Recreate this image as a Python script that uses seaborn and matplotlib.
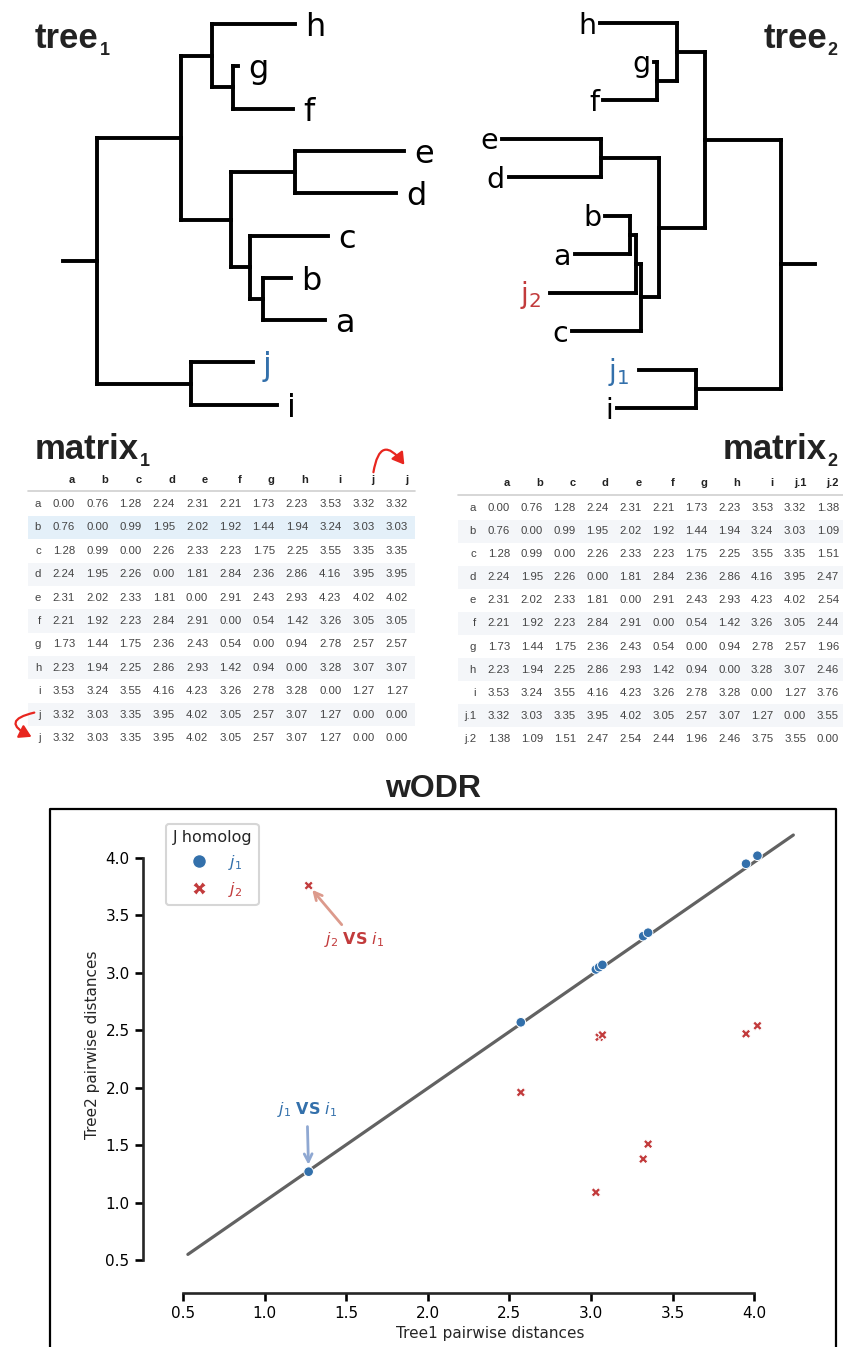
import numpy as np
import pandas as pd
import matplotlib
matplotlib.use("Agg")
import matplotlib.pyplot as plt
from matplotlib.patches import FancyArrowPatch, Rectangle
from matplotlib.lines import Line2D
import seaborn as sns

# ---------------- data ----------------
tree1_newick = ("(((h:0.83,(g:0.05,f:0.60):0.21):0.31,((e:1.09,d:1.01):0.64,"
                "(c:0.78,(b:0.28,a:0.62):0.13):0.19):0.50):0.84,(j:0.62,i:0.86):0.94);")
tree2_newick = ("(((h:0.77,(g:0.03,f:0.54):0.20):0.28,((e:0.99,d:0.92):0.58,"
                "(((b:0.25,a:0.55):0.06,j2:0.86):0.05,c:0.69):0.18):0.46):0.76,(j1:0.57,i:0.79):0.85);")

m1_cols = ["a", "b", "c", "d", "e", "f", "g", "h", "i", "j", "j"]
m1_rows = ["a", "b", "c", "d", "e", "f", "g", "h", "i", "j", "j"]
matrix1 = [
    [0.00, 0.76, 1.28, 2.24, 2.31, 2.21, 1.73, 2.23, 3.53, 3.32, 3.32],
    [0.76, 0.00, 0.99, 1.95, 2.02, 1.92, 1.44, 1.94, 3.24, 3.03, 3.03],
    [1.28, 0.99, 0.00, 2.26, 2.33, 2.23, 1.75, 2.25, 3.55, 3.35, 3.35],
    [2.24, 1.95, 2.26, 0.00, 1.81, 2.84, 2.36, 2.86, 4.16, 3.95, 3.95],
    [2.31, 2.02, 2.33, 1.81, 0.00, 2.91, 2.43, 2.93, 4.23, 4.02, 4.02],
    [2.21, 1.92, 2.23, 2.84, 2.91, 0.00, 0.54, 1.42, 3.26, 3.05, 3.05],
    [1.73, 1.44, 1.75, 2.36, 2.43, 0.54, 0.00, 0.94, 2.78, 2.57, 2.57],
    [2.23, 1.94, 2.25, 2.86, 2.93, 1.42, 0.94, 0.00, 3.28, 3.07, 3.07],
    [3.53, 3.24, 3.55, 4.16, 4.23, 3.26, 2.78, 3.28, 0.00, 1.27, 1.27],
    [3.32, 3.03, 3.35, 3.95, 4.02, 3.05, 2.57, 3.07, 1.27, 0.00, 0.00],
    [3.32, 3.03, 3.35, 3.95, 4.02, 3.05, 2.57, 3.07, 1.27, 0.00, 0.00],
]
m2_cols = ["a", "b", "c", "d", "e", "f", "g", "h", "i", "j.1", "j.2"]
m2_rows = ["a", "b", "c", "d", "e", "f", "g", "h", "i", "j.1", "j.2"]
matrix2 = [
    [0.00, 0.76, 1.28, 2.24, 2.31, 2.21, 1.73, 2.23, 3.53, 3.32, 1.38],
    [0.76, 0.00, 0.99, 1.95, 2.02, 1.92, 1.44, 1.94, 3.24, 3.03, 1.09],
    [1.28, 0.99, 0.00, 2.26, 2.33, 2.23, 1.75, 2.25, 3.55, 3.35, 1.51],
    [2.24, 1.95, 2.26, 0.00, 1.81, 2.84, 2.36, 2.86, 4.16, 3.95, 2.47],
    [2.31, 2.02, 2.33, 1.81, 0.00, 2.91, 2.43, 2.93, 4.23, 4.02, 2.54],
    [2.21, 1.92, 2.23, 2.84, 2.91, 0.00, 0.54, 1.42, 3.26, 3.05, 2.44],
    [1.73, 1.44, 1.75, 2.36, 2.43, 0.54, 0.00, 0.94, 2.78, 2.57, 1.96],
    [2.23, 1.94, 2.25, 2.86, 2.93, 1.42, 0.94, 0.00, 3.28, 3.07, 2.46],
    [3.53, 3.24, 3.55, 4.16, 4.23, 3.26, 2.78, 3.28, 0.00, 1.27, 3.76],
    [3.32, 3.03, 3.35, 3.95, 4.02, 3.05, 2.57, 3.07, 1.27, 0.00, 3.55],
    [1.38, 1.09, 1.51, 2.47, 2.54, 2.44, 1.96, 2.46, 3.75, 3.55, 0.00],
]

# wODR fitted line
fit_x = [0.53, 4.24]
fit_y = [0.55, 4.20]

# ---------------- style ----------------
BLUE = "#3370ab"
RED = "#c23b3c"
sns.set_theme(style="ticks")
plt.rcParams["font.family"] = ["DejaVu Sans"]
plt.rcParams["axes.linewidth"] = 1.9

W, H = 843, 1347
fig = plt.figure(figsize=(W / 100, H / 100), dpi=100)
ov = fig.add_axes([0, 0, 1, 1])
ov.set_xlim(0, W)
ov.set_ylim(H, 0)
ov.axis("off")


# ---------------- trees ----------------
def parse_newick(s):
    s = s.strip().rstrip(";")
    pos = 0

    def node():
        nonlocal pos
        children = []
        if s[pos] == "(":
            pos += 1
            while True:
                children.append(node())
                if s[pos] == ",":
                    pos += 1
                    continue
                pos += 1
                break
        st = pos
        while pos < len(s) and s[pos] not in ",():":
            pos += 1
        name = s[st:pos]
        length = 0.0
        if pos < len(s) and s[pos] == ":":
            pos += 1
            st = pos
            while pos < len(s) and s[pos] not in ",()":
                pos += 1
            length = float(s[st:pos])
        return {"name": name, "len": length, "children": children}

    return node()


def layout(tree):
    segs, tips = [], []
    counter = [0]

    def rec(n, depth):
        d = depth + n["len"]
        if not n["children"]:
            y = counter[0]
            counter[0] += 1
            tips.append((n["name"], d, y))
        else:
            ys = [rec(c, d) for c in n["children"]]
            y = (ys[0] + ys[-1]) / 2
            segs.append(((d, d), (ys[0], ys[-1])))
        if n["len"] > 0:
            segs.append(((depth, d), (y, y)))
        return y

    root_y = rec(tree, 0)
    return segs, tips, root_y


def draw_tree(newick, x0, direction, y0, ystep, xscale, stub, fs, labels):
    segs, tips, ry = layout(parse_newick(newick))
    segs.append(((-stub, 0), (ry, ry)))
    fx = lambda v: x0 + direction * xscale * np.asarray(v)
    fy = lambda v: y0 + ystep * np.asarray(v)
    for xs, ys in segs:
        ov.plot(fx(xs), fy(ys), color="black", lw=2.8, solid_capstyle="projecting")
    em = fs * 100 / 72
    for name, d, y in tips:
        txt, col, gap = labels.get(name, (name, "black", 10 if direction > 0 else 4))
        px = fx(d) + direction * gap
        ov.text(px, fy(y) + 0.38 * em, txt, fontsize=fs, color=col,
                ha="left" if direction > 0 else "right", va="baseline")


draw_tree(tree1_newick, 97, +1, 24, 42.3, 100, 0.34, 23, {"j": ("j", BLUE, 10)})
draw_tree(tree2_newick, 781, -1, 23, 38.5, 100, 0.34, 20.5,
          {"j2": (r"j$_2$", RED, 8), "j1": (r"j$_1$", BLUE, 9)})


def title_with_sub(x, y, main, sub, ha, fs=25, subfs=13):
    t = ov.text(x, y, main, fontsize=fs, fontweight="bold", family="Liberation Sans",
                color="#222222", ha=ha, va="baseline")
    ov.annotate(sub, xy=(1, 0), xycoords=t, xytext=(0.5, -3), textcoords="offset points",
                fontsize=subfs, fontweight="bold", family="Liberation Sans",
                color="#222222", ha="left", va="bottom")


title_with_sub(35, 48, "tree", "1", "left")
title_with_sub(827, 48, "tree", "2", "right")
title_with_sub(35, 459, "matrix", "1", "left")
title_with_sub(827, 459, "matrix", "2", "right")


# ---------------- tables ----------------
def draw_table(vals, rows, cols, x0, x1, lab_x, col0, colstep, head_y, line_y,
               row0, rowstep, highlight=None):
    for r in range(len(rows)):
        cy = row0 + r * rowstep
        color = None
        if highlight is not None and r == highlight:
            color = "#e4f0f9"
        elif r % 2 == 1:
            color = "#f4f6f9"
        if color:
            ov.add_patch(Rectangle((x0, cy - rowstep / 2), x1 - x0, rowstep,
                                   facecolor=color, edgecolor="none", zorder=0))
    ov.plot([x0, x1], [line_y, line_y], color="#cfcfcf", lw=1.2)
    for c, lab in enumerate(cols):
        ov.text(col0 + c * colstep, head_y, lab, fontsize=8, fontweight="bold",
                family="Liberation Sans", color="#222222", ha="right", va="center")
    for r, lab in enumerate(rows):
        cy = row0 + r * rowstep
        ov.text(lab_x, cy, lab, fontsize=8.2, family="Liberation Sans", color="#444444",
                ha="right", va="center")
        for c, v in enumerate(vals[r]):
            ov.text(col0 + c * colstep, cy, f"{v:.2f}", fontsize=8.2,
                    family="Liberation Sans", color="#444444", ha="right", va="center")


draw_table(matrix1, m1_rows, m1_cols, 28, 415, 41, 75, 33.3, 480, 491, 504, 23.4, highlight=1)
draw_table(matrix2, m2_rows, m2_cols, 458, 843, 476, 510, 32.9, 483, 495, 508, 23.1)

# red curved arrows (duplicated j)
for pa, pb, rad in [((373, 475), (406, 467), -1.25), ((37, 712), (34, 738), 1.5)]:
    ov.add_patch(FancyArrowPatch(pa, pb, connectionstyle=f"arc3,rad={rad}",
                                 arrowstyle="-|>,head_length=0.5,head_width=0.3",
                                 mutation_scale=14, color="#e8261f", lw=1.6))

# ---------------- scatter panel ----------------
ov.plot([50, 50, 836, 836], [1352, 809, 809, 1352], color="black", lw=1.6)
ov.text(433, 797, "wODR", fontsize=23, fontweight="bold", family="Liberation Sans",
        color="#222222", ha="center", va="baseline")

j_idx = m1_rows.index("j")
j1_idx = m2_rows.index("j.1")
j2_idx = m2_cols.index("j.2")
leaves = m1_cols[:9]
n = len(leaves)
t1 = [matrix1[j_idx][k] for k in range(n)]
t2_j1 = [matrix2[j1_idx][k] for k in range(n)]
t2_j2 = [matrix2[k][j2_idx] for k in range(n)]
df = pd.DataFrame({
    "t1": t1 + t1,
    "t2": t2_j1 + t2_j2,
    "homolog": ["j1"] * n + ["j2"] * n,
})

ax = fig.add_axes([156.7 / W, 1 - 1276 / H, 667 / W, 462 / H])
ax.set_facecolor("none")
sns.lineplot(x=fit_x, y=fit_y, color="#626262", lw=2.3, ax=ax, zorder=1)
sns.scatterplot(data=df, x="t1", y="t2", hue="homolog", style="homolog", size="homolog",
                markers={"j1": "o", "j2": "X"}, palette={"j1": BLUE, "j2": RED},
                sizes={"j1": 48, "j2": 46}, edgecolor="white", linewidth=0.7,
                legend=False, ax=ax, zorder=3)
ax.set_xlim(0.339, 4.426)
ax.set_ylim(0.362, 4.383)
ticks = [0.5, 1.0, 1.5, 2.0, 2.5, 3.0, 3.5, 4.0]
ax.set_xticks(ticks)
ax.set_yticks(ticks)
ax.tick_params(width=1.9, length=6, labelsize=11, colors="black")
ax.set_xlabel("Tree1 pairwise distances", fontsize=11)
ax.set_ylabel("Tree2 pairwise distances", fontsize=11)
sns.despine(ax=ax, offset={"left": 10, "bottom": 12}, trim=True)

ax.annotate(r"$j_2$ $\mathbf{VS}$ $i_1$", xy=(1.27, 3.76), xytext=(1.55, 3.29),
            ha="center", va="center", color=RED, fontsize=11.5,
            arrowprops=dict(arrowstyle="->", color="#dc9a8c", lw=2, shrinkA=2, shrinkB=4,
                            mutation_scale=14))
ax.annotate(r"$j_1$ $\mathbf{VS}$ $i_1$", xy=(1.27, 1.27), xytext=(1.26, 1.81),
            ha="center", va="center", color=BLUE, fontsize=11.5,
            arrowprops=dict(arrowstyle="->", color="#8fa8d2", lw=2, shrinkA=3, shrinkB=5,
                            mutation_scale=14))

handles = [Line2D([], [], marker="o", ls="none", color=BLUE, markersize=10, markeredgecolor="white"),
           Line2D([], [], marker="X", ls="none", color=RED, markersize=10, markeredgecolor="white")]
leg = ax.legend(handles, [r"$j_1$", r"$j_2$"], title="J homolog", loc="upper left",
                fontsize=11.5, title_fontsize=11.5, frameon=True, edgecolor="#cccccc",
                borderaxespad=0.6)
leg.get_frame().set_linewidth(1.5)
for t, c in zip(leg.get_texts(), [BLUE, RED]):
    t.set_color(c)

fig.savefig("out.png", dpi=100)
